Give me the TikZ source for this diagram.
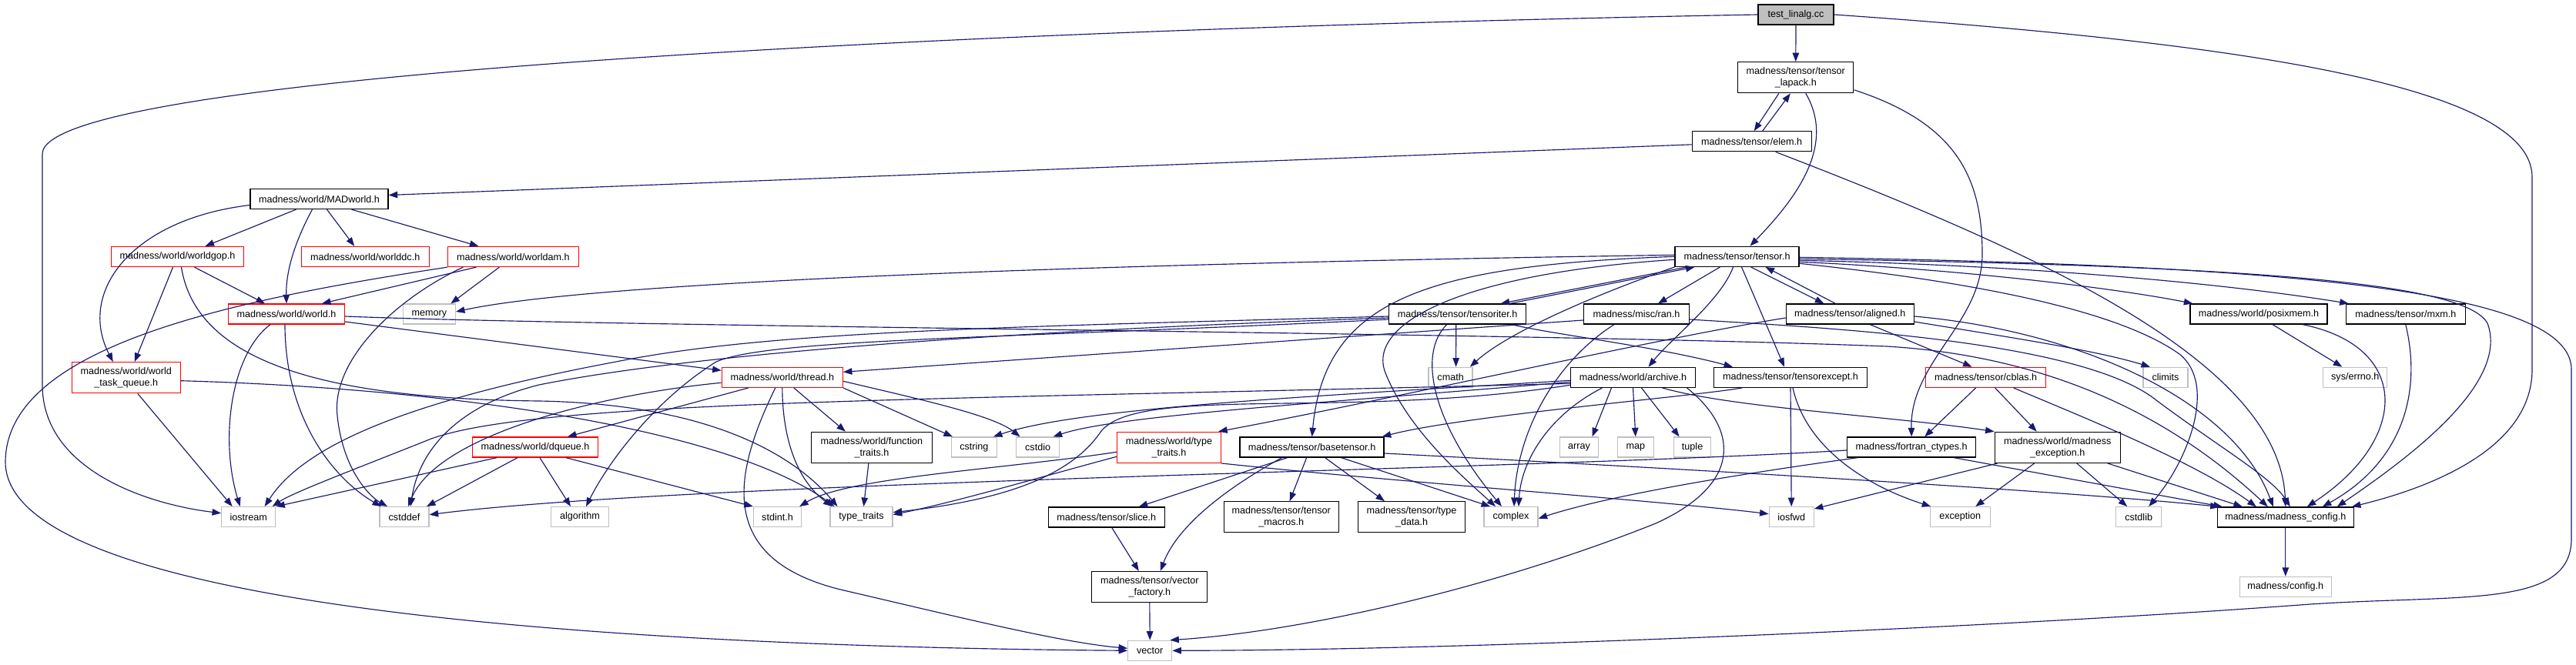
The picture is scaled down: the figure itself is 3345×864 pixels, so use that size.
\documentclass[tikz,border=0pt]{standalone}
\usepackage{fontspec}
\setmainfont{Liberation Sans}
\usetikzlibrary{arrows.meta}
\definecolor{edgec}{HTML}{191970}
\definecolor{gry}{HTML}{BFBFBF}
\definecolor{redb}{HTML}{FF0000}
\newcommand\nfs{\fontsize{12.6}{15}\selectfont}
\begin{document}
\begin{tikzpicture}[x=1pt,y=-1pt,
  nd/.style={draw=black, line width=1.3pt, inner sep=0pt, minimum height=26pt, font=\nfs, align=center, fill=white},
  rd/.style={nd, draw=redb},
  gd/.style={nd, draw=gry},
  ed/.style={draw=edgec, line width=1.15pt, -{Triangle[length=11.5pt,width=8.5pt]}}]
\fill[white] (0,0) rectangle (3345,864);
\useasboundingbox (0,0) rectangle (3345,864);
% nodes
\node[nd,fill=gry,minimum width=98pt] (tl) at (2332,19) {test\_linalg.cc};
\node[nd,minimum width=150pt,minimum height=40pt] (lapack) at (2331.8,100.8) {madness/tensor/tensor\\\_lapack.h};
\node[nd,minimum width=155pt] (elem) at (2274.7,183.8) {madness/tensor/elem.h};
\node[nd,minimum width=179pt] (madworld) at (414.5,258.5) {madness/world/MADworld.h};
\node[rd,minimum width=172pt] (worldgop) at (230.5,333.5) {madness/world/worldgop.h};
\node[rd,minimum width=166pt] (worlddc) at (474.2,333.5) {madness/world/worlddc.h};
\node[rd,minimum width=170pt] (worldam) at (666.4,333.5) {madness/world/worldam.h};
\node[rd,minimum width=151pt] (world) at (372,408) {madness/world/world.h};
\node[gd,minimum width=68pt] (memory) at (557.3,408) {memory};
\node[nd,minimum width=161pt] (tensor) at (2255.5,333.3) {madness/tensor/tensor.h};
\node[nd,minimum width=178pt] (tensoriter) at (1892.7,408) {madness/tensor/tensoriter.h};
\node[nd,minimum width=137pt] (ran) at (2125,408) {madness/misc/ran.h};
\node[nd,minimum width=166pt] (aligned) at (2402.3,408) {madness/tensor/aligned.h};
\node[nd,minimum width=178pt] (posixmem) at (2933,408) {madness/world/posixmem.h};
\node[nd,minimum width=155pt] (mxm) at (3123.8,408) {madness/tensor/mxm.h};
\node[rd,minimum width=141pt,minimum height=40pt] (wtq) at (163.8,490.7) {madness/world/world\\\_task\_queue.h};
\node[rd,minimum width=157pt] (thread) at (1015.8,490.3) {madness/world/thread.h};
\node[gd,minimum width=57pt] (cmath) at (1883.6,490.3) {cmath};
\node[nd,minimum width=162pt] (archive) at (2120.5,490.3) {madness/world/archive.h};
\node[nd,minimum width=199pt] (tensorexcept) at (2325,490.3) {madness/tensor/tensorexcept.h};
\node[rd,minimum width=156pt] (cblas) at (2578.6,490.3) {madness/tensor/cblas.h};
\node[gd,minimum width=58pt] (climits) at (2812,490.3) {climits};
\node[gd,minimum width=83pt] (errno) at (3058.3,490.3) {sys/errno.h};
\node[rd,minimum width=163pt] (dqueue) at (695,581) {madness/world/dqueue.h};
\node[nd,minimum width=157pt,minimum height=40pt] (functraits) at (1131.9,581.3) {madness/world/function\\\_traits.h};
\node[gd,minimum width=59pt] (cstring) at (1264.9,581) {cstring};
\node[gd,minimum width=56pt] (cstdio) at (1347.6,581) {cstdio};
\node[rd,minimum width=135pt,minimum height=40pt] (typetraitsh) at (1518,581.3) {madness/world/type\\\_traits.h};
\node[nd,minimum width=187pt] (basetensor) at (1703.6,581) {madness/tensor/basetensor.h};
\node[gd,minimum width=50pt] (array) at (2050.5,581) {array};
\node[gd,minimum width=47pt] (map) at (2123.8,581) {map};
\node[gd,minimum width=48pt] (tuple) at (2197.6,581) {tuple};
\node[nd,minimum width=167pt] (fortran) at (2482.2,581) {madness/fortran\_ctypes.h};
\node[nd,minimum width=163pt,minimum height=40pt] (mexc) at (2671.7,581.3) {madness/world/madness\\\_exception.h};
\node[gd,minimum width=70pt] (iostream) at (322.7,671.7) {iostream};
\node[gd,minimum width=64pt] (cstddef) at (525,671.7) {cstddef};
\node[gd,minimum width=75pt] (algorithm) at (753,671.7) {algorithm};
\node[gd,minimum width=62pt] (stdint) at (1009.5,671.7) {stdint.h};
\node[gd,minimum width=81pt] (typetraits) at (1118.5,671.7) {type\_traits};
\node[nd,minimum width=151pt] (slice) at (1436.8,672) {madness/tensor/slice.h};
\node[nd,minimum width=149pt,minimum height=40pt] (macros) at (1663.7,671.8) {madness/tensor/tensor\\\_macros.h};
\node[nd,minimum width=139pt,minimum height=40pt] (typedata) at (1833,671.8) {madness/tensor/type\\\_data.h};
\node[gd,minimum width=70pt] (complex) at (1962,671.7) {complex};
\node[gd,minimum width=58pt] (iosfwd) at (2326.2,671.7) {iosfwd};
\node[gd,minimum width=78pt] (exception) at (2545.2,671.7) {exception};
\node[gd,minimum width=59pt] (cstdlib) at (2777.2,671.7) {cstdlib};
\node[nd,minimum width=177pt] (config) at (2967.8,672) {madness/madness\_config.h};
\node[nd,minimum width=150pt,minimum height=40pt] (vfactory) at (1492.8,762.5) {madness/tensor/vector\\\_factory.h};
\node[gd,minimum width=119pt] (configh) at (2967.8,762.5) {madness/config.h};
\node[gd,minimum width=57pt] (vector) at (1493.2,845.3) {vector};
% edges
\draw[ed] (tl.west) .. controls (1400,35) and (55,90) .. (55,200) -- (55,500) .. controls (55,610) and (190,655) .. ([yshift=5pt]iostream.west);
\draw[ed] (tl.south) -- (lapack.north);
\draw[ed] (tl.east) .. controls (2900,55) and (3288,110) .. (3288,230) -- (3288,480) .. controls (3288,585) and (3150,635) .. ([xshift=-3pt]config.north east);
\draw[ed] ([xshift=-22pt]lapack.south) -- ([xshift=3pt]elem.north);
\draw[ed] ([xshift=14pt]elem.north) -- ([xshift=-7pt]lapack.south);
\draw[ed] ([xshift=13pt]lapack.south) .. controls (2385,190) and (2330,260) .. ([xshift=17pt]tensor.north);
\draw[ed] ([yshift=-16pt]lapack.east) .. controls (2540,160) and (2574,230) .. (2574,330) .. controls (2574,420) and (2480,470) .. (fortran.north);
\draw[ed] ([yshift=-4pt]elem.west) -- ([yshift=5pt]madworld.east);
\draw[ed] ([xshift=31pt]elem.south) .. controls (2650,330) and (2960,470) .. (config.north);
\draw[ed] ([xshift=-30pt]madworld.south) -- ([xshift=36pt]worldgop.north);
\draw[ed] ([xshift=-9pt]madworld.south) .. controls (385,310) and (371,350) .. (world.north);
\draw[ed] ([xshift=10pt]madworld.south) -- ([xshift=-14pt]worlddc.north);
\draw[ed] ([xshift=42pt]madworld.south) -- ([xshift=-45pt]worldam.north);
\draw[ed] ([yshift=-8pt]madworld.west) .. controls (170,285) and (100,380) .. ([xshift=-17pt]wtq.north);
\draw[ed] ([xshift=22pt]worldgop.south) -- ([xshift=-28pt]world.north);
\draw[ed] ([xshift=-6pt]worldgop.south) -- ([xshift=11pt]wtq.north);
\draw[ed] ([xshift=5pt]worldgop.south) .. controls (255,470) and (420,518) .. (700,521) .. controls (920,525) and (1030,590) .. ([xshift=-31pt]typetraits.north);
\draw[ed] ([xshift=-48pt]worldam.south) -- ([xshift=46pt]world.north);
\draw[ed] ([xshift=-18pt]worldam.south) -- ([xshift=28pt]memory.north);
\draw[ed] ([xshift=-65pt]worldam.south) .. controls (510,390) and (430,470) .. (438,540) .. controls (445,610) and (480,645) .. ([xshift=-22pt]cstddef.north);
\draw[ed] (worldam.south west) .. controls (300,390) and (8,450) .. (7,600) .. controls (7,790) and (800,840) .. (vector.west);
\draw[ed] ([xshift=-21pt]world.south) .. controls (300,460) and (285,570) .. ([xshift=-11pt]iostream.north);
\draw[ed] ([xshift=-2pt]world.south) .. controls (370,540) and (430,620) .. ([xshift=-30pt]cstddef.north);
\draw[ed] ([yshift=-10pt]world.east) -- ([yshift=9pt]thread.west);
\draw[ed] ([yshift=-3pt]world.east) .. controls (800,425) and (2000,432) .. (2450,450) .. controls (2700,465) and (2850,570) .. ([xshift=-23pt]config.north);
\draw[ed] ([xshift=15pt]wtq.south) -- ([xshift=-21pt]iostream.north);
\draw[ed] ([yshift=-4pt]wtq.east) .. controls (600,505) and (950,560) .. ([xshift=-35pt]typetraits.north);
\draw[ed] ([xshift=-44pt]thread.south) -- ([xshift=42pt]dqueue.north);
\draw[ed] ([xshift=15pt]thread.south) -- ([xshift=-34pt]functraits.north);
\draw[ed] (thread.south east) -- ([xshift=-28pt]cstring.north);
\draw[ed] ([yshift=-5pt]thread.east) .. controls (1200,520) and (1290,540) .. ([xshift=-23pt]cstdio.north);
\draw[ed] (thread.south) .. controls (1016,560) and (1030,620) .. ([xshift=-38pt]typetraits.north);
\draw[ed] ([yshift=-7pt]thread.west) .. controls (800,510) and (570,560) .. ([xshift=5pt]cstddef.north);
\draw[ed] ([xshift=-9pt]thread.south) .. controls (950,620) and (930,730) .. (1100,768) .. controls (1250,803) and (1380,835) .. ([yshift=3pt]vector.west);
\draw[ed] ([yshift=-8pt]ran.west) -- ([yshift=7pt]thread.east);
\draw[ed] ([xshift=-50pt]dqueue.south) -- (iostream.north east);
\draw[ed] ([xshift=-23pt]dqueue.south) -- ([xshift=29pt]cstddef.north);
\draw[ed] ([xshift=6pt]dqueue.south) -- ([xshift=-12pt]algorithm.north);
\draw[ed] ([xshift=40pt]dqueue.south) -- (stdint.north west);
\draw[ed] ([xshift=-4pt]functraits.south) -- ([xshift=3pt]typetraits.north);
\draw[ed] ([xshift=-65pt]tensor.south) -- ([xshift=56pt]tensoriter.north);
\draw[ed] ([xshift=68pt]tensoriter.north) -- ([xshift=-55pt]tensor.south);
\draw[ed] ([xshift=-22pt]tensor.south) -- ([xshift=28pt]ran.north);
\draw[ed] ([xshift=18pt]tensor.south) -- ([xshift=-34pt]aligned.north);
\draw[ed] ([xshift=-19pt]aligned.north) -- ([xshift=37pt]tensor.south);
\draw[ed] ([xshift=6pt]tensor.south) -- ([xshift=-8pt]tensorexcept.north);
\draw[ed] ([xshift=-5pt]tensor.south) .. controls (2235,390) and (2170,440) .. ([xshift=20pt]archive.north);
\draw[ed] (tensor.west) .. controls (1850,345) and (1720,390) .. (basetensor.north);
\draw[ed] ([yshift=-7pt]tensor.east) .. controls (2550,350) and (2750,375) .. ([xshift=4pt]posixmem.north west);
\draw[ed] ([yshift=-5pt]tensor.east) .. controls (2650,345) and (2900,370) .. ([xshift=4pt]mxm.north west);
\draw[ed] ([yshift=-3pt]tensor.east) .. controls (2900,345) and (3200,365) .. (3230,420) .. controls (3260,500) and (3120,600) .. ([xshift=67pt]config.north);
\draw[ed] ([yshift=-1pt]tensor.east) .. controls (3000,345) and (3339,380) .. (3339,480) -- (3339,700) .. controls (3339,790) and (3200,772) .. (3000,785) .. controls (2600,815) and (1900,845) .. (vector.east);
\draw[ed] ([yshift=-9pt]tensor.east) .. controls (2600,370) and (2760,410) .. (2830,460) .. controls (2880,500) and (2840,600) .. ([xshift=13pt]cstdlib.north);
\draw[ed] ([yshift=-4pt]tensor.west) .. controls (1900,355) and (1770,420) .. (1800,487) .. controls (1830,560) and (1900,620) .. ([xshift=-20pt]complex.north);
\draw[ed] (tensor.south west) .. controls (2080,380) and (1960,430) .. ([xshift=-4pt]cmath.north east);
\draw[ed] ([yshift=2pt]tensor.west) .. controls (1600,340) and (800,360) .. ([yshift=3pt]memory.east);
\draw[ed] ([yshift=-3pt]tensoriter.west) .. controls (1300,425) and (1000,430) .. (800,470) .. controls (560,515) and (400,570) .. ([xshift=21pt]iostream.north);
\draw[ed] ([yshift=-5pt]tensoriter.west) .. controls (1300,430) and (900,460) .. (700,500) .. controls (600,525) and (545,580) .. ([xshift=8pt]cstddef.north);
\draw[ed] ([yshift=-7pt]tensoriter.west) .. controls (1300,440) and (1000,440) .. (930,470) .. controls (850,520) and (790,600) .. ([xshift=8pt]algorithm.north);
\draw[ed] ([xshift=-2pt]tensoriter.south) -- ([xshift=7pt]cmath.north);
\draw[ed] ([xshift=-14pt]tensoriter.south) .. controls (1840,460) and (1860,550) .. ([xshift=-12pt]complex.north);
\draw[ed] ([xshift=70pt]tensoriter.south) .. controls (2020,435) and (2150,450) .. ([xshift=-75pt]tensorexcept.north);
\draw[ed] ([xshift=-29pt]ran.south) .. controls (2020,470) and (1970,560) .. ([xshift=4pt]complex.north);
\draw[ed] ([yshift=-7pt]ran.east) .. controls (2350,425) and (2700,440) .. (2800,520) .. controls (2880,580) and (2950,620) .. ([xshift=6pt]config.north);
\draw[ed] ([xshift=26pt]aligned.south) -- ([xshift=-18pt]cblas.north);
\draw[ed] ([yshift=-3pt]aligned.east) .. controls (2700,430) and (2900,520) .. ([xshift=-16pt]config.north);
\draw[ed] ([yshift=-10pt]aligned.east) .. controls (2620,440) and (2720,455) .. ([xshift=-20pt]climits.north);
\draw[ed] ([yshift=-5pt]aligned.west) .. controls (2150,440) and (1800,520) .. ([xshift=-4pt]typetraitsh.north east);
\draw[ed] ([xshift=-63pt]tensorexcept.south) .. controls (2200,515) and (1900,540) .. ([xshift=-3pt]basetensor.north east);
\draw[ed] (tensorexcept.south) -- (iosfwd.north);
\draw[ed] ([xshift=3pt]tensorexcept.south) .. controls (2345,580) and (2420,630) .. ([xshift=-38pt]exception.north);
\draw[ed] ([xshift=-28pt]archive.south) -- ([xshift=17pt]array.north);
\draw[ed] (archive.south) -- (map.north);
\draw[ed] ([xshift=11pt]archive.south) -- ([xshift=-17pt]tuple.north);
\draw[ed] ([xshift=38pt]archive.south) .. controls (2250,530) and (2450,540) .. (mexc.north west);
\draw[ed] ([yshift=-4pt]archive.west) .. controls (1700,515) and (1400,530) .. ([xshift=25pt]cstring.north);
\draw[ed] ([yshift=-6pt]archive.west) .. controls (1700,525) and (1450,540) .. ([xshift=20pt]cstdio.north);
\draw[ed] ([xshift=-40pt]archive.south) .. controls (2010,540) and (1975,600) .. ([xshift=10pt]complex.north);
\draw[ed] ([xshift=70pt]archive.south) .. controls (2260,560) and (2260,630) .. (2150,680) .. controls (1950,760) and (1700,820) .. ([xshift=-3pt]vector.north east);
\draw[ed] ([yshift=-8pt]archive.west) .. controls (1200,520) and (700,520) .. (560,570) .. controls (460,610) and (380,640) .. ([xshift=31pt]iostream.north);
\draw[ed] ([yshift=-10pt]archive.west) .. controls (1750,545) and (1480,500) .. (1430,560) .. controls (1390,620) and (1300,650) .. ([yshift=6pt]typetraits.east);
\draw[ed] ([xshift=-70pt]fortran.south) .. controls (2300,610) and (2100,640) .. ([yshift=-2pt]complex.east);
\draw[ed] ([xshift=55pt]fortran.south) -- ([xshift=-82pt]config.north);
\draw[ed] ([yshift=-4pt]fortran.west) .. controls (2000,610) and (900,625) .. ([yshift=3pt]cstddef.east);
\draw[ed] ([xshift=-13pt]cblas.south) -- ([xshift=17pt]fortran.north);
\draw[ed] ([xshift=12pt]cblas.south) -- ([xshift=-27pt]mexc.north);
\draw[ed] ([xshift=36pt]cblas.south) .. controls (2700,540) and (2850,600) .. ([xshift=-38pt]config.north);
\draw[ed] ([xshift=-78pt]mexc.south) -- ([yshift=-3pt]iosfwd.north east);
\draw[ed] ([xshift=-30pt]mexc.south) -- ([xshift=20pt]exception.north);
\draw[ed] ([xshift=25pt]mexc.south) -- ([xshift=-15pt]cstdlib.north);
\draw[ed] ([xshift=65pt]mexc.south) -- ([xshift=-56pt]config.north);
\draw[ed] ([xshift=18pt]posixmem.south) -- ([xshift=-17pt]errno.north);
\draw[ed] ([xshift=57pt]posixmem.south) .. controls (3130,450) and (3130,570) .. ([xshift=28pt]config.north);
\draw[ed] (mxm.south) .. controls (3145,510) and (3120,600) .. ([xshift=48pt]config.north);
\draw[ed] (config.south) -- (configh.north);
\draw[ed] ([xshift=-32pt]basetensor.south) -- ([xshift=42pt]slice.north);
\draw[ed] ([xshift=-39pt]basetensor.south) .. controls (1600,630) and (1530,680) .. ([xshift=14pt]vfactory.north);
\draw[ed] ([xshift=-7pt]basetensor.south) -- ([xshift=11pt]macros.north);
\draw[ed] ([xshift=17pt]basetensor.south) -- ([xshift=-35pt]typedata.north);
\draw[ed] ([xshift=38pt]basetensor.south) -- ([xshift=-27pt]complex.north);
\draw[ed] ([yshift=-8pt]basetensor.east) .. controls (2300,615) and (2700,640) .. ([xshift=3pt]config.north west);
\draw[ed] ([xshift=7pt]slice.south) -- ([xshift=-14pt]vfactory.north);
\draw[ed] (vfactory.south) -- (vector.north);
\draw[ed] ([yshift=-12pt]typetraitsh.west) .. controls (1350,620) and (1250,650) .. ([yshift=3pt]typetraits.east);
\draw[ed] ([yshift=-6pt]typetraitsh.west) .. controls (1300,610) and (1100,620) .. ([xshift=-3pt]stdint.north east);
\draw[ed] (typetraitsh.south east) .. controls (1800,625) and (2150,650) .. ([yshift=4pt]iosfwd.west);
\end{tikzpicture}
\end{document}
